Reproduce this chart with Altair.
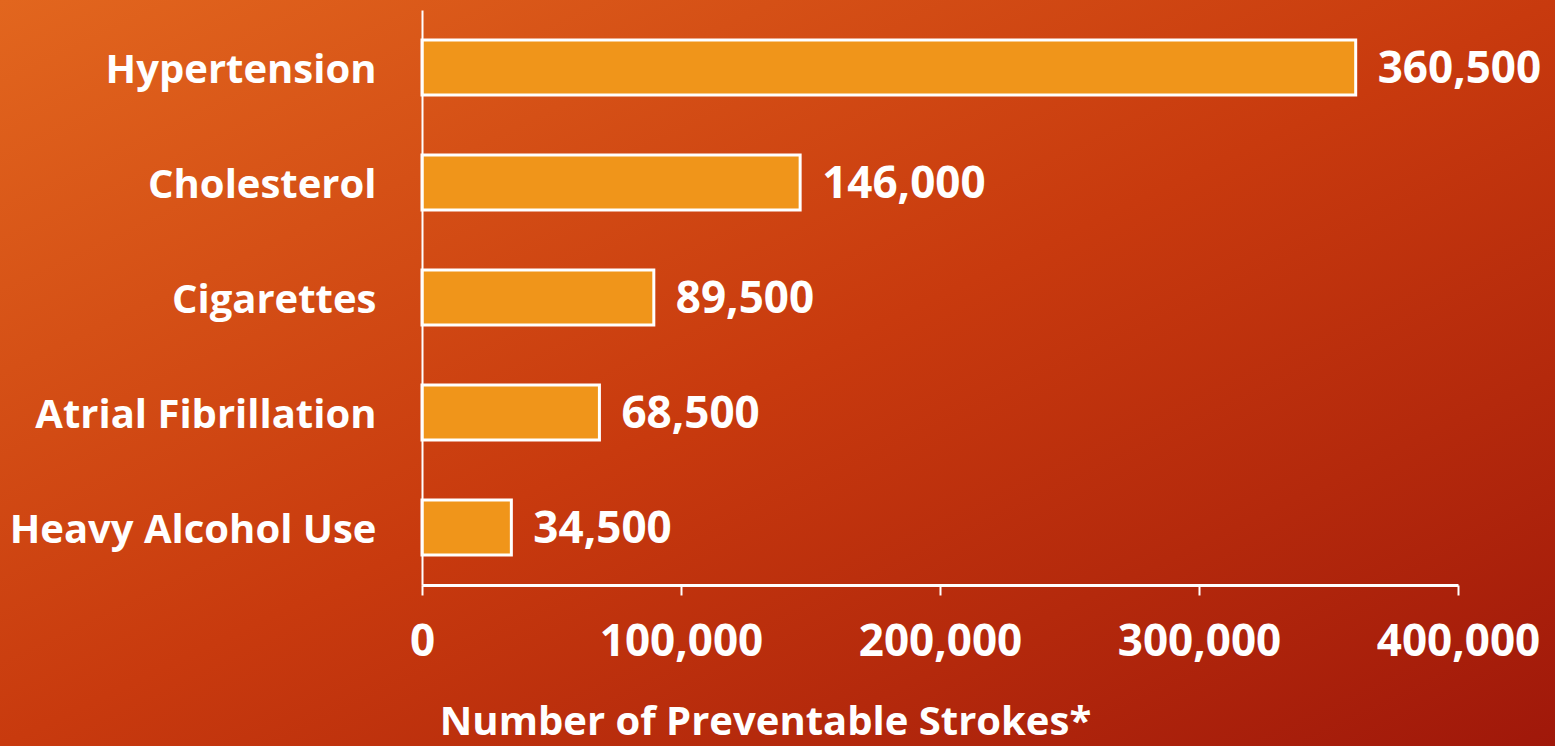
import altair as alt
import pandas as pd

categories = ["Hypertension", "Cholesterol", "Cigarettes", "Atrial Fibrillation", "Heavy Alcohol Use"]
values = [360500, 146000, 89500, 68500, 34500]
x_ticks = [0, 100000, 200000, 300000, 400000]

df = pd.DataFrame({"risk": categories, "strokes": values})

W, H = 1036, 575
PL, PT, PR, PB = 422, 10, 97, 161
FONT = "Open Sans"

bg = alt.Chart(pd.DataFrame({"a": [0]})).mark_rect(
    color=alt.Gradient(
        gradient="linear",
        x1=0, y1=0, x2=1, y2=1,
        stops=[
            alt.GradientStop(color="#E2661E", offset=0),
            alt.GradientStop(color="#C83A0E", offset=0.5),
            alt.GradientStop(color="#A0180A", offset=1),
        ],
    )
).encode(
    x=alt.value(-PL), x2=alt.value(W + PR),
    y=alt.value(-PT), y2=alt.value(H + PB),
)

y_axis = alt.Axis(title=None, ticks=False, domainColor="white", domainWidth=2,
                  labelColor="white", labelFont=FONT, labelFontSize=40, labelLimit=0,
                  labelFontWeight="bold", labelPadding=46, labelOffset=3,
                  grid=False, zindex=1)
x_axis = alt.Axis(title="Number of Preventable Strokes*", values=x_ticks,
                  labelExpr="format(datum.value, ',')",
                  grid=False, domainColor="white", domainWidth=3,
                  tickColor="white", tickWidth=2, tickSize=10, labelFlush=False,
                  labelColor="white", labelFont=FONT, labelFontSize=44,
                  labelFontWeight="bold", labelPadding=25, zindex=1,
                  titleColor="white", titleFont=FONT, titleFontSize=40,
                  titleFontWeight="bold", titlePadding=38,
                  titleAnchor="start", titleX=343, titleAlign="center")
x_scale = alt.Scale(domain=[0, 400000], nice=False)
y_scale = alt.Scale(paddingInner=0.52, paddingOuter=0.26)

bars = alt.Chart(df).mark_bar(color="#F0951A", stroke="white", strokeWidth=3).encode(
    x=alt.X("strokes:Q", scale=x_scale, axis=x_axis),
    y=alt.Y("risk:N", sort=categories, scale=y_scale, axis=y_axis),
)

labels = alt.Chart(df).mark_text(
    align="left", baseline="middle", dx=22, dy=2, color="white",
    font=FONT, fontSize=44, fontWeight="bold",
).encode(
    x=alt.X("strokes:Q", scale=x_scale, axis=x_axis),
    y=alt.Y("risk:N", sort=categories, scale=y_scale, axis=y_axis),
    text=alt.Text("strokes:Q", format=","),
)

chart = alt.layer(bg, bars, labels).properties(
    width=W, height=H,
    padding={"left": PL, "top": PT, "right": PR, "bottom": PB},
    autosize=alt.AutoSizeParams(type="none"),
    background="#C83A0E",
).configure_view(stroke=None)

chart.save("out.html", embed_options={"renderer": "svg", "actions": False})
